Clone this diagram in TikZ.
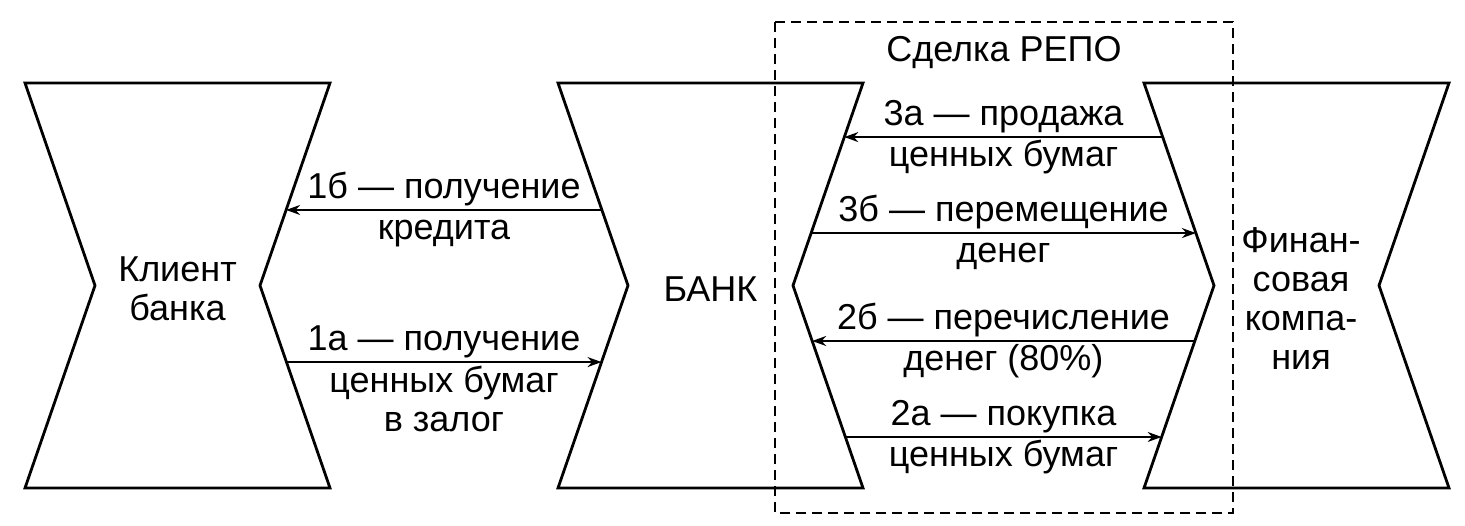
\documentclass[tikz,border=0pt]{standalone}
\usepackage{fontspec}
\setmainfont{Liberation Sans}
\usetikzlibrary{arrows.meta,calc}

\tikzstyle{party} = [
    draw,
    line width=1.4pt,
    line join=miter
]
\tikzstyle{flow} = [
    -{Stealth[length=7pt,width=5pt]},
    line width=0.9pt
]
\tikzstyle{caption} = [
    font=\fontsize{18}{19.5}\selectfont,
    align=center,
    inner sep=1.5pt
]
\tikzstyle{under} = [
    caption,
    below,
    text height=13pt
]
\tikzstyle{repo} = [
    draw,
    line width=0.9pt,
    dash pattern=on 5pt off 3pt
]

\begin{document}
\begin{tikzpicture}[x=0.5pt, y=-0.5pt]
    \useasboundingbox (0,0) rectangle (1465,525);

    % Parties (hourglass shapes)
    \foreach \n/\x in {client/25, bank/558, fin/1144} {
        \coordinate (\n-tl) at (\x,83);
        \coordinate (\n-tr) at (\x+305,83);
        \coordinate (\n-rn) at (\x+235,285.5);
        \coordinate (\n-br) at (\x+305,488);
        \coordinate (\n-bl) at (\x,488);
        \coordinate (\n-ln) at (\x+70,285.5);
        \draw[party] (\n-tl) -- (\n-tr) -- (\n-rn) -- (\n-br) -- (\n-bl) -- (\n-ln) -- cycle;
    }
    \node[caption] (client) at (177.5,289) {Клиент\\банка};
    \node[caption] (bank) at (710.5,289) {БАНК};
    \node[caption] (fin) at (1301,299) {Финан-\\совая\\компа-\\ния};

    % REPO deal frame
    \coordinate (repo-nw) at (775,22);
    \coordinate (repo-se) at (1233,513);
    \draw[repo] (repo-nw) rectangle (repo-se);
    \node[caption] (repo) at (1004,53) {Сделка РЕПО};

    % Client -- bank
    \draw[flow] ($(bank-tl)!0.627!(bank-ln)$) --
        node[caption, above] (l1b) {1б — получение}
        node[under] (l1b2) {кредита}
        ($(client-tr)!0.627!(client-rn)$);
    \draw[flow] ($(client-rn)!0.378!(client-br)$) --
        node[caption, above] (l1a) {1а — получение}
        node[caption, below] (l1a2) {ценных бумаг\\в залог}
        ($(bank-ln)!0.378!(bank-bl)$);

    % Bank -- financial company
    \draw[flow] ($(fin-tl)!0.267!(fin-ln)$) --
        node[caption, above] (l3a) {3а — продажа}
        node[under] (l3a2) {ценных бумаг}
        ($(bank-tr)!0.267!(bank-rn)$);
    \draw[flow] ($(bank-tr)!0.741!(bank-rn)$) --
        node[caption, above] (l3b) {3б — перемещение}
        node[under] (l3b2) {денег}
        ($(fin-tl)!0.741!(fin-ln)$);
    \draw[flow] ($(fin-ln)!0.274!(fin-bl)$) --
        node[caption, above] (l2b) {2б — перечисление}
        node[under] (l2b2) {денег (80\%)}
        ($(bank-rn)!0.274!(bank-br)$);
    \draw[flow] ($(bank-rn)!0.748!(bank-br)$) --
        node[caption, above] (l2a) {2а — покупка}
        node[under] (l2a2) {ценных бумаг}
        ($(fin-ln)!0.748!(fin-bl)$);
\end{tikzpicture}
\end{document}
